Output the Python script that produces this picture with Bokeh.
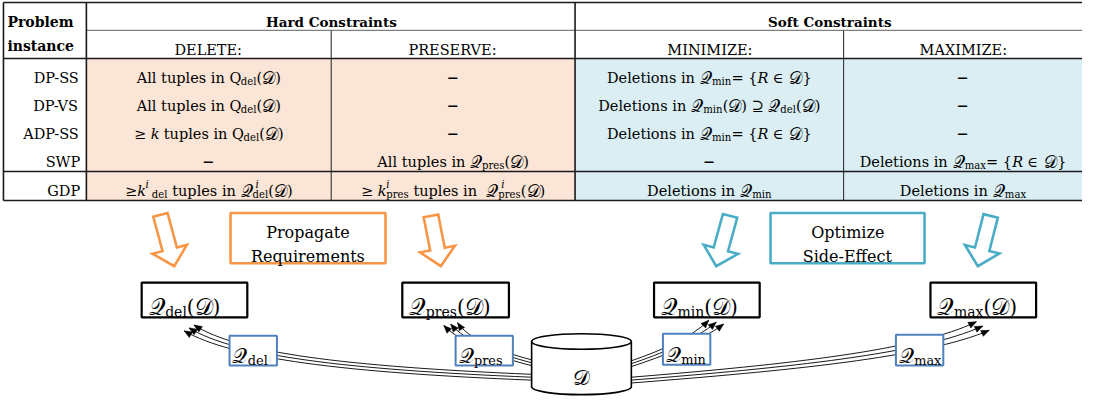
import numpy as np
from bokeh.plotting import figure
from bokeh.models import ColumnDataSource, Range1d
from bokeh.core.properties import value
from bokeh.embed import file_html
from bokeh.resources import INLINE

# ---------------- data (texts) ----------------
CORNER = ["Problem", "instance"]
HEADER_GROUPS = ["Hard Constraints", "Soft Constraints"]
SUB_HEADERS = ["DELETE:", "PRESERVE:", "MINIMIZE:", "MAXIMIZE:"]
ROW_LABELS = ["DP-SS", "DP-VS", "ADP-SS", "SWP", "GDP"]
DASH = [("\u2212", "b")]
DELETE_CELLS = [
    [("All tuples in ", "r"), ("Q", "r"), ("del", "_"), ("(𝒟)", "r")],
    [("All tuples in ", "r"), ("Q", "r"), ("del", "_"), ("(𝒟)", "r")],
    [("≥ ", "r"), ("k", "i"), (" tuples in ", "r"), ("Q", "r"), ("del", "_"), ("(𝒟)", "r")],
    DASH,
    [("≥", "r"), ("k", "i"), ("i", "^"), (" del", "_"), (" tuples in ", "r"),
     ("𝒬", "r"), ("i", "^0"), ("del", "_"), ("(𝒟)", "r")],
]
PRESERVE_CELLS = [
    DASH, DASH, DASH,
    [("All tuples in ", "r"), ("𝒬", "r"), ("pres", "_"), ("(𝒟)", "r")],
    [("≥ ", "r"), ("k", "i"), ("i", "^0"), ("pres", "_"), (" tuples in  ", "r"),
     ("𝒬", "r"), ("i", "^0"), ("pres", "_"), ("(𝒟)", "r")],
]
MINIMIZE_CELLS = [
    [("Deletions in ", "r"), ("𝒬", "r"), ("min", "_"), ("= {", "r"), ("R", "i"), (" ∈ 𝒟}", "r")],
    [("Deletions in ", "r"), ("𝒬", "r"), ("min", "_"), ("(𝒟) ⊇ ", "r"), ("𝒬", "r"), ("del", "_"), ("(𝒟)", "r")],
    [("Deletions in ", "r"), ("𝒬", "r"), ("min", "_"), ("= {", "r"), ("R", "i"), (" ∈ 𝒟}", "r")],
    DASH,
    [("Deletions in ", "r"), ("𝒬", "r"), ("min", "_")],
]
MAXIMIZE_CELLS = [
    DASH, DASH, DASH,
    [("Deletions in ", "r"), ("𝒬", "r"), ("max", "_"), ("= {", "r"), ("R", "i"), (" ∈ 𝒟}", "r")],
    [("Deletions in ", "r"), ("𝒬", "r"), ("max", "_")],
]
QUERY_NAMES = ["del", "pres", "min", "max"]
STAGE_LABELS = [["Propagate", "Requirements"], ["Optimize", "Side-Effect"]]
DB_LABEL = "𝒟"

# ---------------- layout / style ----------------
FONT = "DejaVu Serif"
PW, PH = 1082, 397
XR, YR = (2, 1098), (0, 411)
SX = PW / (XR[1] - XR[0])
SY = PH / (YR[1] - YR[0])

PINK, LBLUE = "#FBE5D6", "#DAEEF3"
ORANGE, TEAL, QBLUE = "#F79646", "#4BACC6", "#4F81BD"

X0, X_LAB, X_DEL, X_HS, X_MIN, X1 = 5, 89, 337, 584, 856, 1098
Y0, Y_H1, Y_H2, Y_GDP, Y1 = 2, 31, 60, 177, 207
ROW_Y = [75, 104, 133, 162, 192]
COL_X = [(X_LAB + X_DEL) / 2, (X_DEL + X_HS) / 2, (X_HS + X_MIN) / 2, (X_MIN + X1) / 2]

SCRIPT = "𝒬𝒟"
W = {' ': 0.318, 'A': 0.722, 'B': 0.735, 'C': 0.702, 'D': 0.830, 'E': 0.732, 'F': 0.694,
     'G': 0.775, 'H': 0.873, 'I': 0.402, 'K': 0.771, 'L': 0.694, 'M': 0.995, 'N': 0.837,
     'O': 0.787, 'P': 0.687, 'Q': 0.787, 'R': 0.770, 'S': 0.686, 'T': 0.682, 'V': 0.722,
     'W': 1.028, 'X': 0.722, 'Z': 0.687, 'a': 0.596, 'b': 0.640, 'c': 0.560, 'd': 0.640,
     'e': 0.592, 'f': 0.370, 'g': 0.640, 'h': 0.644, 'i': 0.320, 'j': 0.310, 'k': 0.606,
     'l': 0.320, 'm': 0.948, 'n': 0.644, 'o': 0.602, 'p': 0.640, 'q': 0.640, 'r': 0.478,
     's': 0.513, 't': 0.402, 'u': 0.644, 'v': 0.565, 'w': 0.856, 'x': 0.564, 'y': 0.565,
     'z': 0.527, '(': 0.390, ')': 0.390, '{': 0.640, '}': 0.640, '=': 0.838, '≥': 0.838,
     '∈': 0.838, '⊇': 0.838, '-': 0.338, ':': 0.338, '\u2212': 0.838, '𝒬': 0.72, '𝒟': 0.78}
MATH_SCALE = 1.15


def split_script(runs):
    out = []
    for t, k in runs:
        if k != 'r' or not any(c in SCRIPT for c in t):
            out.append((t, k))
            continue
        buf = ""
        for c in t:
            if c in SCRIPT:
                if buf:
                    out.append((buf, 'r'))
                    buf = ""
                out.append((c, 'm'))
            else:
                buf += c
        if buf:
            out.append((buf, 'r'))
    return out


def run_width(t, k, size):
    w = sum(W.get(c, 0.6) for c in t)
    if k == 'b':
        w *= 1.1
    if k in ('i', '^', '^0'):
        w *= 0.95
    if k in ('_', '^', '^0'):
        size = size * 0.7
    if k == 'm':
        size = size * MATH_SCALE
    return w * size


T = dict(x=[], y=[], text=[], size=[], style=[], color=[])


def put_runs(runs, x, yc, size, align="center", color="black"):
    runs = split_script(runs)
    widths = [run_width(t, k, size) for t, k in runs]
    adv = [0 if k == '^0' else w for (t, k), w in zip(runs, widths)]
    total = sum(adv) / SX
    if align == "center":
        cx = x - total / 2
    elif align == "right":
        cx = x - total
    else:
        cx = x
    base = yc + 0.34 * size / SY
    prev = None
    for (t, k), a in zip(runs, adv):
        y, sz, st, dx = base, size, "normal", 0.0
        if k == '_':
            y, sz = base + 0.26 * size / SY, 0.7 * size
        elif k in ('^', '^0'):
            y, sz, st = base - 0.42 * size / SY, 0.7 * size, "italic"
            if prev == 'm':
                dx = 0.2 * size / SX
        elif k == 'i':
            st = "italic"
        elif k == 'b':
            st = "bold"
        elif k == 'm':
            sz = size * MATH_SCALE
        T["x"].append(cx + dx)
        T["y"].append(y)
        T["text"].append(t.replace(" ", "\u00a0"))
        T["size"].append(f"{sz:.1f}px")
        T["style"].append(st)
        T["color"].append(color)
        cx += a / SX
        prev = k


p = figure(width=PW, height=PH, x_range=Range1d(*XR), y_range=Range1d(YR[1], YR[0]),
           output_backend="svg", toolbar_location=None, min_border=0,
           x_axis_type=None, y_axis_type=None, outline_line_color=None,
           background_fill_color="white", border_fill_color="white")
p.grid.visible = False

# ---------------- table ----------------
p.quad(left=[X_LAB, X_HS], right=[X_HS, X1], top=[Y_H2, Y_H2], bottom=[Y1, Y1],
       fill_color=[PINK, LBLUE], line_color=None)
p.segment(x0=[X_LAB], y0=[Y_H1], x1=[X1], y1=[Y_H1], line_color="#808080", line_width=1.2)
p.segment(x0=[X_DEL, X_MIN], y0=[Y_H1, Y_H1], x1=[X_DEL, X_MIN], y1=[Y1, Y1],
          line_color="#333333", line_width=1.1)
p.segment(x0=[X0, X0, X0, X0, X0, X_LAB, X_HS],
          y0=[Y0, Y_H2, Y_GDP, Y1, Y0, Y0, Y0],
          x1=[X1, X1, X1, X1, X0, X_LAB, X_HS],
          y1=[Y0, Y_H2, Y_GDP, Y1, Y1, Y1, Y1],
          line_color="#1a1a1a", line_width=1.6)

put_runs([(CORNER[0], "b")], 9, 17, 14, align="left")
put_runs([(CORNER[1], "b")], 9, 42, 14, align="left")
put_runs([(HEADER_GROUPS[0], "b")], (X_LAB + X_HS) / 2, 17, 13.5)
put_runs([(HEADER_GROUPS[1], "b")], (X_HS + X1) / 2, 17, 13.5)
for cx, lab in zip(COL_X, SUB_HEADERS):
    put_runs([(lab, "r")], cx, 46, 14.5)
for yc, lab in zip(ROW_Y, ROW_LABELS):
    put_runs([(lab, "r")], 83, yc, 14.5, align="right")
for cx, cells in zip(COL_X, [DELETE_CELLS, PRESERVE_CELLS, MINIMIZE_CELLS, MAXIMIZE_CELLS]):
    for yc, runs in zip(ROW_Y, cells):
        put_runs(runs, cx, yc, 14.5)

# ---------------- query bundles ----------------
BUNDLES = [  # P0, P1, P2, P3, start offset, end offset
    ((540, 390), (350, 382), (240, 368), (193, 339), (0, 3), (-5, 3)),
    ((540, 375), (505, 366), (472, 352), (458, 335), (0, 3), (-7, 1.5)),
    ((641, 376), (670, 366), (705, 352), (727, 333), (0, 3), (7.5, 2)),
    ((641, 393), (800, 380), (935, 366), (997, 337), (0, 3), (6.5, 4.5)),
]
bx0, by0, bx1, by1, bcx0, bcy0, bcx1, bcy1 = ([] for _ in range(8))
heads = ([], [])
for P0, P1, P2, P3, dS, dE in BUNDLES:
    for i in (-1, 0, 1):
        s = (P0[0] + i * dS[0], P0[1] + i * dS[1])
        e = (P3[0] + i * dE[0], P3[1] + i * dE[1])
        c1 = (P1[0] + i * dS[0], P1[1] + i * dS[1] * 1.1)
        c2 = (P2[0] + i * (dS[0] + dE[0]) / 2, P2[1] + i * (dS[1] + dE[1]) / 2)
        bx0.append(s[0]); by0.append(s[1]); bx1.append(e[0]); by1.append(e[1])
        bcx0.append(c1[0]); bcy0.append(c1[1]); bcx1.append(c2[0]); bcy1.append(c2[1])
        d = np.array(e) - np.array(c2)
        u = d / np.linalg.norm(d)
        n = np.array([-u[1], u[0]])
        tip = np.array(e)
        b = tip - 8 * u
        pts = [tip, b + 3.3 * n, b - 3.3 * n]
        heads[0].append([q[0] for q in pts])
        heads[1].append([q[1] for q in pts])
p.bezier(x0=bx0, y0=by0, x1=bx1, y1=by1, cx0=bcx0, cy0=bcy0, cx1=bcx1, cy1=bcy1,
         line_color="black", line_width=0.9)
p.patches(xs=heads[0], ys=heads[1], fill_color="black", line_color="black", line_width=0.5)

# blue query boxes
QB = [(234, 282), (463, 521), (673, 721), (909, 957)]
QB_Y = [(347, 378), (347, 378), (345, 377), (346, 378)]
p.quad(left=[a for a, b in QB], right=[b for a, b in QB],
       top=[a for a, b in QB_Y], bottom=[b for a, b in QB_Y],
       fill_color="white", line_color=QBLUE, line_width=2)
for (l, r), (t, b), q in zip(QB, QB_Y, QUERY_NAMES):
    put_runs([("𝒬", "r"), (q, "_")], l + 3, (t + b) / 2 - 1, 18.5, align="left")

# cylinder
CX0, CX1, CT, CB, CH = 540, 641, 353, 400, 16
cxm = (CX0 + CX1) / 2
p.ellipse(x=[cxm], y=[CB], width=[CX1 - CX0], height=[CH], fill_color="white",
          line_color="black", line_width=1.6)
p.quad(left=[CX0], right=[CX1], top=[CT], bottom=[CB], fill_color="white", line_color=None)
p.segment(x0=[CX0, CX1], y0=[CT, CT], x1=[CX0, CX1], y1=[CB, CB], line_color="black", line_width=1.6)
p.ellipse(x=[cxm], y=[CT], width=[CX1 - CX0], height=[CH], fill_color="white",
          line_color="black", line_width=1.6)
put_runs([(DB_LABEL, "r")], cxm, 384, 18)

# black result boxes
RB = [(145, 252), (409, 517), (664, 771), (944, 1051)]
p.quad(left=[a for a, b in RB], right=[b for a, b in RB], top=[292] * 4, bottom=[328] * 4,
       fill_color="white", line_color="black", line_width=2.2)
for (l, r), q in zip(RB, QUERY_NAMES):
    put_runs([("𝒬", "r"), (q, "_"), ("(𝒟)", "r")], l + 7, 310, 20, align="left")


# block arrows
def block_arrow(top, tip, hs=7.5, hh=18, lh=18):
    top, tip = np.array(top, float), np.array(tip, float)
    d = tip - top
    L = np.linalg.norm(d)
    u = d / L
    n = np.array([-u[1], u[0]])
    b = top + (L - lh) * u
    pts = [top - hs * n, b - hs * n, b - hh * n, tip, b + hh * n, b + hs * n, top + hs * n]
    return [q[0] for q in pts], [q[1] for q in pts]


ARROWS = [((164, 222), (178, 275)), ((438, 223), (448, 275)),
          ((741, 223), (727, 275)), ((1005, 223), (992, 275))]
ARROW_COLORS = [ORANGE, ORANGE, TEAL, TEAL]
axs, ays = [], []
for top, tip in ARROWS:
    xs, ys = block_arrow(top, tip)
    axs.append(xs); ays.append(ys)
p.patches(xs=axs, ys=ays, fill_color="white", line_color=ARROW_COLORS, line_width=2.6,
          line_join="miter")

# stage label boxes
SB = [(235, 392), (782, 938)]
p.quad(left=[a for a, b in SB], right=[b for a, b in SB], top=[220, 220], bottom=[272, 272],
       fill_color="white", line_color=[ORANGE, TEAL], line_width=2.6)
for (l, r), labs in zip(SB, STAGE_LABELS):
    put_runs([(labs[0], "r")], (l + r) / 2, 235, 16)
    put_runs([(labs[1], "r")], (l + r) / 2, 259, 16)

src = ColumnDataSource(T)
p.text(x="x", y="y", text="text", source=src, text_font=value(FONT), text_font_size="size",
       text_font_style="style", text_color="color", text_align="left", text_baseline="alphabetic")

open("out.html", "w").write(file_html(p, INLINE))
